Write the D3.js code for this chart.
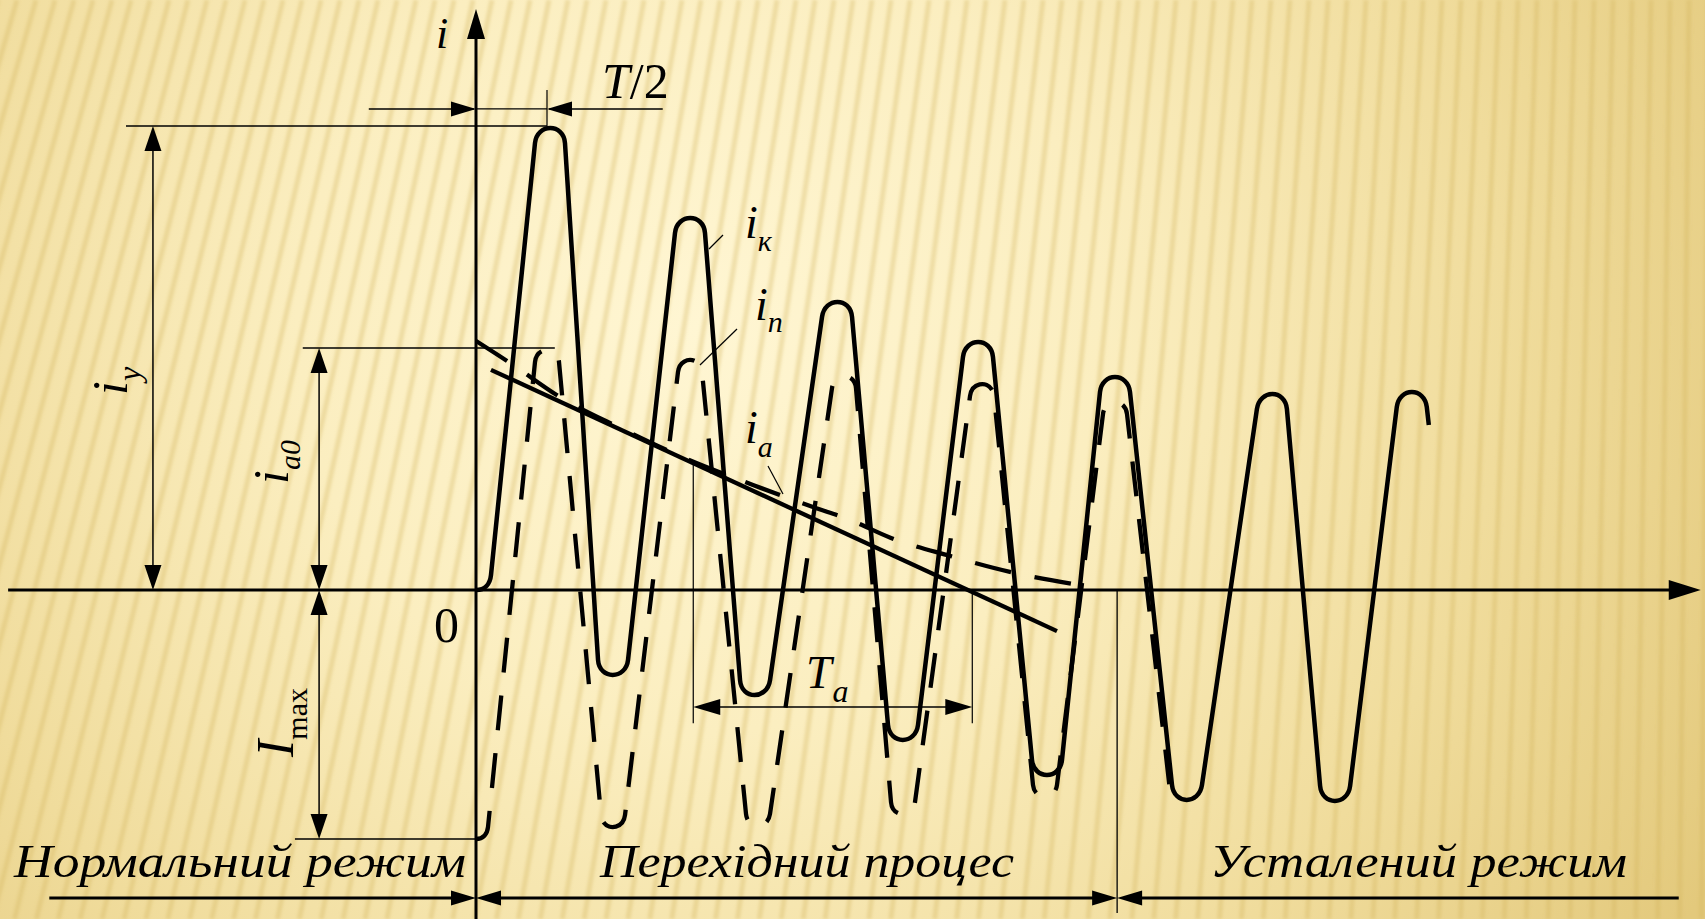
<!DOCTYPE html>
<html><head><meta charset="utf-8">
<script src="https://cdn.jsdelivr.net/npm/d3@7"></script>
<style>html,body{margin:0;padding:0;overflow:hidden;background:#F6E7B0}</style>
</head><body><svg id="c" width="1705" height="919"></svg>
<script>
// ---------------- data (time t in ms, T/2 = 10 ms; current in units of I_max) ----------------
const ikPoints = [[0,0],[10.42,1.855],[19.30,-0.341],[30.14,1.494],[39.30,-0.422],[50.85,1.157],[60.14,-0.602],
  [70.70,0.996],[80.42,-0.743],[90.0,0.855],[100.14,-0.843],[112.1,0.787],[121.0,-0.847],[131.8,0.795],[134.2,0.663]];
const inPoints = [[0,-1.0],[10.0,0.964],[19.3,-0.952],[30.14,0.924],[39.72,-0.948],[51.83,0.859],[60.14,-0.900],
  [71.27,0.827],[80.14,-0.831],[90.0,0.755],[97.75,-0.807]];
const iaPoints = [[0,1.0],[5.21,0.904],[11.83,0.775],[20.28,0.651],[28.73,0.538],[39.01,0.422],[47.46,0.333],
  [52.39,0.285],[58.45,0.209],[66.76,0.137],[75.35,0.072],[84.23,0.024],[86.9,0.012]];
const tangentPoints = [[2.11,0.884],[81.83,-0.165]];
const iyValue = 1.863, ia0Value = 0.972, imaxValue = -1.0;
const halfPeriod = 10;
const taRange = [30.6, 69.9];
const regionBounds = [0, 90.3];
const regionLabels = ["Нормальний режим", "Перехідний процес", "Усталений режим"];

// ---------------- scales ----------------
const x = d3.scaleLinear().domain([0, 10]).range([476, 547]);
const y = d3.scaleLinear().domain([-1, 0]).range([839, 590]);
const svg = d3.select('#c');
const defs = svg.append('defs');

// ---------------- background ----------------
const rg = defs.append('radialGradient').attr('id','bgG').attr('gradientUnits','userSpaceOnUse')
  .attr('cx',700).attr('cy',330).attr('r',1150);
[[0,'#FFF6D3'],[0.35,'#FBEEC0'],[0.7,'#F0DC9C'],[1,'#E3C97C']].forEach(s=>rg.append('stop').attr('offset',s[0]).attr('stop-color',s[1]));
defs.append('filter').attr('id','blr').attr('x','-5%').attr('y','-5%').attr('width','110%').attr('height','110%')
  .append('feGaussianBlur').attr('stdDeviation',1.6);
svg.append('rect').attr('width',1705).attr('height',919).attr('fill','url(#bgG)');
const V = [1750, -6000];
const stripes = svg.append('g').attr('filter','url(#blr)');
for (let x0 = -420; x0 <= 1900; x0 += 19) {
  const dx = x0 - V[0], dy = -V[1];
  const x1 = x0 + dx/dy*919;
  stripes.append('line').attr('x1',x0).attr('y1',0).attr('x2',x1).attr('y2',919)
    .attr('stroke','#D2B45E').attr('stroke-opacity',0.33).attr('stroke-width',5);
}

// ---------------- helpers ----------------
const ink = '#000';
function arrowHead(g, tx, ty, dx, dy, len, wid) {
  const l = Math.hypot(dx,dy); dx/=l; dy/=l;
  const bx = tx - dx*len, by = ty - dy*len;
  const px = -dy*wid/2, py = dx*wid/2;
  g.append('path').attr('d',`M${tx},${ty}L${bx+px},${by+py}L${bx-px},${by-py}Z`).attr('fill',ink);
}
function line(g, x1,y1,x2,y2,w) {
  g.append('line').attr('x1',x1).attr('y1',y1).attr('x2',x2).attr('y2',y2).attr('stroke',ink).attr('stroke-width',w);
}
function capWave(data, r) {
  const P = data.map(([t,v]) => [x(t), y(v)]);
  const n = P.length;
  const d = P.map((p,i) => { const nb = i===0 ? P[1] : P[i-1]; return p[1] < nb[1] ? 1 : -1; });
  const L = P.map((p,i)=>[p[0]-r, p[1]+d[i]*r]);
  const R = P.map((p,i)=>[p[0]+r, p[1]+d[i]*r]);
  const unit = (a,b) => { const dx=a[0]-b[0], dy=a[1]-b[1], l=Math.hypot(dx,dy); return [dx/l, dy/l]; };
  const p = d3.path();
  p.moveTo(P[0][0], P[0][1]);
  { const u2 = unit(R[0], L[1]); const k = 0.6*r;
    p.bezierCurveTo(P[0][0]+k, P[0][1], R[0][0]+u2[0]*k, R[0][1]+u2[1]*k, R[0][0], R[0][1]); }
  for (let i = 1; i < n-1; i++) {
    p.lineTo(L[i][0], L[i][1]);
    const u1 = unit(L[i], R[i-1]);
    const u2 = unit(R[i], i+1 < n-1 ? L[i+1] : P[n-1]);
    const k = -8*d[i]*r/(3*(u1[1]+u2[1]));
    p.bezierCurveTo(L[i][0]+u1[0]*k, L[i][1]+u1[1]*k, R[i][0]+u2[0]*k, R[i][1]+u2[1]*k, R[i][0], R[i][1]);
  }
  p.lineTo(P[n-1][0], P[n-1][1]);
  return p.toString();
}

const g = svg.append('g');
const serif = '"Liberation Serif","Times New Roman",serif';

// ---------------- axes ----------------
line(g, x(-65.9), y(0), x(172.5)-28, y(0), 3);
arrowHead(g, x(172.5), y(0), 1, 0, 32, 20);
line(g, x(0), y(-1.33), x(0), y(2.333)+26, 3);
arrowHead(g, x(0), y(2.333), 0, -1, 30, 18);

// ---------------- curves ----------------
g.append('path').attr('d', capWave(inPoints, 12)).attr('fill','none').attr('stroke',ink)
  .attr('stroke-width',4.3).attr('stroke-dasharray','35 23');
g.append('path').attr('d', d3.line().x(d=>x(d[0])).y(d=>y(d[1])).curve(d3.curveMonotoneX)(iaPoints))
  .attr('fill','none').attr('stroke',ink).attr('stroke-width',4.3).attr('stroke-dasharray','37 24');
g.append('path').attr('d', d3.line().x(d=>x(d[0])).y(d=>y(d[1]))(tangentPoints))
  .attr('fill','none').attr('stroke',ink).attr('stroke-width',4.3);
g.append('path').attr('d', capWave(ikPoints, 15)).attr('fill','none').attr('stroke',ink)
  .attr('stroke-width',4.5).attr('stroke-linejoin','round');

// ---------------- dimensions ----------------
// T/2
const tY = y(1.932);
line(g, x(-15.1), tY, x(0)-2, tY, 1.6);
line(g, x(halfPeriod)+2, tY, x(26.3), tY, 1.6);
line(g, x(0), tY, x(halfPeriod), tY, 1.2);
arrowHead(g, x(0), tY, 1, 0, 25, 15);
arrowHead(g, x(halfPeriod), tY, -1, 0, 25, 15);
line(g, x(halfPeriod), y(2.008), x(halfPeriod), y(iyValue), 1.2);
// i_y
line(g, x(-49.3), y(iyValue), x(halfPeriod), y(iyValue), 1.5);
line(g, x(-45.5), y(iyValue)+20, x(-45.5), y(0)-20, 1.5);
arrowHead(g, x(-45.5), y(iyValue), 0, -1, 25, 17);
arrowHead(g, x(-45.5), y(0), 0, 1, 25, 17);
// i_a0
line(g, x(-24.4), y(ia0Value), x(11.1), y(ia0Value), 1.5);
line(g, x(-22.1), y(ia0Value)+20, x(-22.1), y(0)-20, 1.5);
arrowHead(g, x(-22.1), y(ia0Value), 0, -1, 25, 17);
arrowHead(g, x(-22.1), y(0), 0, 1, 25, 17);
// I_max
line(g, x(-25.5), y(imaxValue), x(0), y(imaxValue), 1.5);
line(g, x(-22.1), y(0)+20, x(-22.1), y(imaxValue)-20, 1.5);
arrowHead(g, x(-22.1), y(0), 0, -1, 25, 17);
arrowHead(g, x(-22.1), y(imaxValue), 0, 1, 25, 17);
// T_a
const taY = y(-0.47);
const tanAt = t => tangentPoints[0][1] + (t - tangentPoints[0][0])*(tangentPoints[1][1]-tangentPoints[0][1])/(tangentPoints[1][0]-tangentPoints[0][0]);
line(g, x(taRange[0]), y(tanAt(taRange[0])), x(taRange[0]), y(-0.535), 1.2);
line(g, x(taRange[1]), y(0), x(taRange[1]), y(-0.535), 1.2);
line(g, x(taRange[0])+20, taY, x(taRange[1])-20, taY, 1.5);
arrowHead(g, x(taRange[0]), taY, -1, 0, 27, 16);
arrowHead(g, x(taRange[1]), taY, 1, 0, 27, 16);
// regions
const rY = y(-1.237);
line(g, x(regionBounds[1]), y(0), x(regionBounds[1]), y(-1.297), 1.3);
line(g, x(-60.1), rY, x(regionBounds[0])-20, rY, 3);
line(g, x(regionBounds[0])+20, rY, x(regionBounds[1])-20, rY, 3);
line(g, x(regionBounds[1])+20, rY, x(169.4), rY, 3);
arrowHead(g, x(regionBounds[0]), rY, 1, 0, 25, 15);
arrowHead(g, x(regionBounds[0]), rY, -1, 0, 25, 15);
arrowHead(g, x(regionBounds[1]), rY, 1, 0, 25, 15);
arrowHead(g, x(regionBounds[1]), rY, -1, 0, 25, 15);

// leader lines
line(g, 723, 235, 709, 249, 1.2);
line(g, 737, 329, 700, 365, 1.2);
line(g, 768, 466, 783, 494, 1.2);

// ---------------- texts ----------------
const T = svg.append('g').attr('font-family', serif).attr('fill', ink);
function sub(gx, xx, yy, main, subt, fs, sfs, dy, opts={}) {
  const t = gx.append('text').attr('x',xx).attr('y',yy).attr('font-size',fs);
  if (opts.rot) t.attr('transform',`rotate(-90 ${xx} ${yy})`);
  t.append('tspan').attr('font-style', opts.mainUp ? 'normal':'italic').text(main);
  t.append('tspan').attr('font-size',sfs).attr('dy',dy).attr('dx', opts.sdx||0)
    .attr('font-style', opts.subUp ? 'normal':'italic').text(subt);
  return t;
}
T.append('text').attr('x',436).attr('y',48).attr('font-size',44).attr('font-style','italic').text('i');
T.append('text').attr('x',434).attr('y',642).attr('font-size',50).text('0');
const th = T.append('text').attr('x',602).attr('y',98).attr('font-size',50);
th.append('tspan').attr('font-style','italic').text('T');
th.append('tspan').text('/2');
sub(T, 745, 238, 'i', 'к', 46, 30, 13);
sub(T, 755, 320, 'i', 'п', 46, 30, 12);
sub(T, 745, 443, 'i', 'а', 46, 30, 14);
sub(T, 806, 688, 'T', 'а', 46, 32, 14, {sdx:1});
sub(T, 127, 395, 'i', 'у', 50, 32, 13, {rot:true});
sub(T, 288, 484, 'i', 'а0', 50, 30, 12, {rot:true});
sub(T, 293, 757, 'I', 'max', 52, 30, 14, {rot:true, subUp:true});
const labelX = [[14,452],[600,414],[1210,417]];
regionLabels.forEach((s,i)=>{
  T.append('text').attr('x',labelX[i][0]).attr('y',877).attr('font-size',46).attr('font-style','italic')
    .attr('textLength',labelX[i][1]).attr('lengthAdjust','spacingAndGlyphs').text(s);
});
</script></body></html>
